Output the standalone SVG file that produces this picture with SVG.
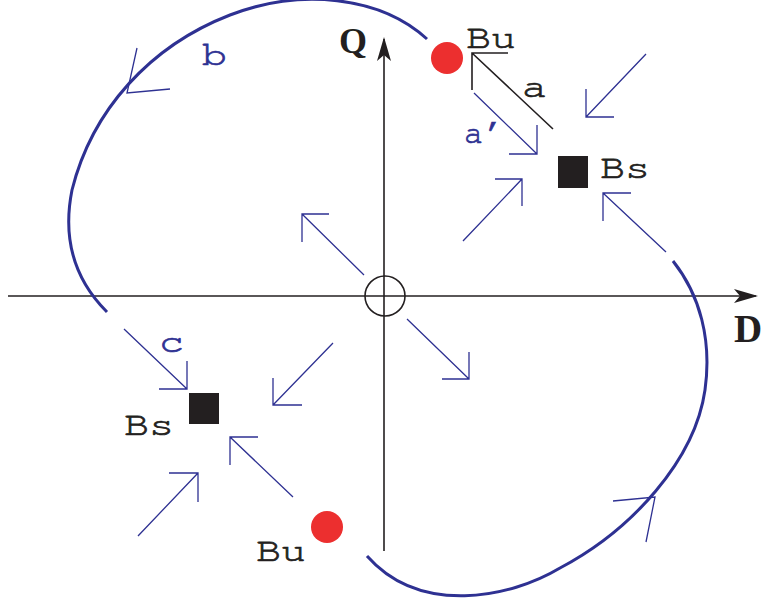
<svg xmlns="http://www.w3.org/2000/svg" width="762" height="602" viewBox="0 0 762 602">
<style>
.axis{stroke:#231f20;stroke-width:1.6;fill:none}
.curve{stroke:#2e3192;stroke-width:3;fill:none;stroke-linecap:butt}
.arr{stroke:#2e3192;stroke-width:1.3;fill:none}
.blk{stroke:#231f20;stroke-width:1.6;fill:none}
.mono{font-family:"Nimbus Mono PS","FreeMono","Courier","Liberation Mono","DejaVu Sans Mono",monospace;font-size:34px;stroke-width:0.7}
.lab{font-family:"Liberation Serif","Times New Roman",serif;font-weight:bold}
.bt{fill:#2e3192;stroke:#2e3192}
.kt{fill:#231f20}
.mono.kt{stroke:#231f20}
</style>
<defs>
<marker id="ah" viewBox="0 0 24 14" refX="22" refY="7" markerWidth="24" markerHeight="14" markerUnits="userSpaceOnUse" orient="auto">
<path d="M0,0 L24,7 L0,14 L6,7 Z" fill="#231f20"/>
</marker>
</defs>
<g id="axes">
<line class="axis" x1="8" y1="296" x2="756" y2="296" marker-end="url(#ah)"/>
<line class="axis" x1="384" y1="551" x2="384" y2="39" marker-end="url(#ah)"/>
<circle class="axis" cx="385" cy="296" r="20" stroke-width="1.5"/>
<text class="lab kt" x="339" y="53" font-size="36">Q</text>
<text class="lab kt" x="734" y="342" font-size="39">D</text>
</g>
<g id="Bu-top">
<circle cx="447" cy="58" r="16" fill="#ec2f2f"/>
<text class="mono kt" x="466" y="48" font-size="35" textLength="50" lengthAdjust="spacingAndGlyphs">Bu</text>
</g>
<g id="Bs-top">
<rect x="558" y="156" width="30" height="32" fill="#231f20"/>
<text class="mono kt" x="600" y="178" font-size="35" textLength="50" lengthAdjust="spacingAndGlyphs">Bs</text>
</g>
<g id="Bs-bottom">
<rect x="189" y="393" width="30" height="31" fill="#231f20"/>
<text class="mono kt" x="124" y="435" font-size="35" textLength="50" lengthAdjust="spacingAndGlyphs">Bs</text>
</g>
<g id="Bu-bottom">
<circle cx="327" cy="527" r="16" fill="#ec2f2f"/>
<text class="mono kt" x="256" y="561" font-size="35" textLength="50" lengthAdjust="spacingAndGlyphs">Bu</text>
</g>
<g id="connectors">
<path class="curve" d="M427,39 C380,-4 300,-12 230,15 C150,46 92,110 72,190 C62,240 75,280 107,312"/>
<path class="arr" d="M137,48 L127,93 L170,89"/>
<path class="curve" d="M673,261 C700,295 712,340 705,390 C695,460 632,530 560,568 C510,598 420,616 367,556"/>
<path class="arr" d="M613,501 L655,497 L646,542"/>
<text class="mono bt" x="202" y="65" textLength="25" lengthAdjust="spacingAndGlyphs">b</text>
<text class="mono bt" x="159" y="352" textLength="25" lengthAdjust="spacingAndGlyphs">c</text>
<path class="blk" d="M553,129 L472,53 M508,53 L472,53 L472,90"/>
<text class="mono kt" x="522" y="97" textLength="25" lengthAdjust="spacingAndGlyphs">a</text>
<path class="arr" d="M474,93 L537,154 M537,125 L537,154 L509,154"/>
<text class="mono bt" x="464" y="143" textLength="38" lengthAdjust="spacingAndGlyphs">a′</text>
<path class="arr" d="M646,54 L586,117 M586,89 L586,117 L614,117"/>
<path class="arr" d="M463,241 L522,179 M495,179 L522,179 L522,206"/>
<path class="arr" d="M666,252 L603,193 M631,193 L603,193 L603,221"/>
<path class="arr" d="M364,275 L302,214 M329,214 L302,214 L302,242"/>
<path class="arr" d="M407,319 L469,379 M469,352 L469,379 L442,379"/>
<path class="arr" d="M124,329 L187,389 M187,361 L187,389 L159,389"/>
<path class="arr" d="M333,343 L273,405 M273,378 L273,405 L302,405"/>
<path class="arr" d="M293,497 L230,437 M258,437 L230,437 L230,465"/>
<path class="arr" d="M138,536 L198,473 M169,473 L198,473 L198,502"/>
</g>
</svg>
